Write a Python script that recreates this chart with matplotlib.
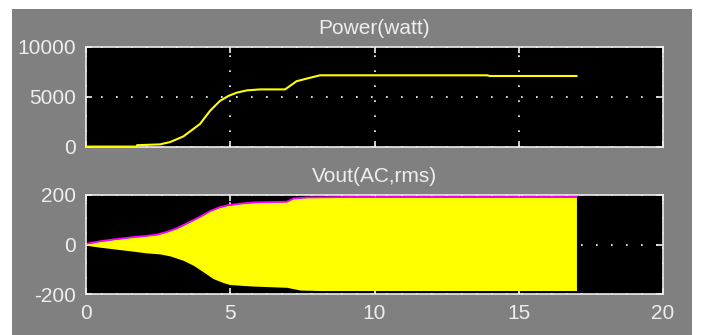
import matplotlib
matplotlib.use("Agg")
import matplotlib.pyplot as plt
from matplotlib.patches import Rectangle

plt.rcParams["axes.unicode_minus"] = False

# power curve (watt) vs time
t_power = [0, 1.76, 1.77, 2.56, 2.91, 3.37, 3.95, 4.30, 4.64, 4.93, 5.22, 5.57,
           6.03, 6.90, 7.30, 7.65, 8.11, 13.9, 14.0, 17.0]
power = [40, 40, 180, 260, 490, 1050, 2300, 3620, 4600, 5100, 5430, 5660,
         5760, 5760, 6580, 6840, 7170, 7170, 7100, 7100]

# Vout envelope (upper / lower) vs time
t_upper = [0, 0.49, 1.06, 1.64, 2.10, 2.45, 2.80, 3.14, 3.49, 3.95, 4.30, 4.64,
           4.93, 5.34, 5.80, 6.96, 7.19, 7.65, 9.15, 17.0]
v_upper = [3, 13, 22, 30, 35, 40, 51, 65, 85, 112, 135, 151,
           159, 165, 170, 173, 186, 190, 192, 192]
t_lower = [0, 0.49, 1.06, 1.64, 2.10, 2.56, 2.91, 3.37, 3.72, 4.07, 4.41, 4.76,
           4.99, 5.80, 6.96, 7.42, 8.11, 17.0]
v_lower = [-3, -11, -19, -27, -34, -38, -46, -64, -84, -111, -138, -154,
           -162, -168, -173, -184, -186, -186]

xticks = [0, 5, 10, 15, 20]
fg = "#eeeeee"
font = "Liberation Sans"

fig = plt.figure(figsize=(7.01, 3.35), dpi=100)
fig.patch.set_facecolor("white")
fig.patches.append(Rectangle((12 / 701, 0), 680 / 701, 1 - 9 / 335,
                             transform=fig.transFigure, facecolor="#808080",
                             edgecolor="none", zorder=-10))

ax1 = fig.add_axes([86 / 701, 1 - 147 / 335, 577 / 701, 100 / 335])
ax2 = fig.add_axes([86 / 701, 1 - 294 / 335, 577 / 701, 99 / 335])

for ax in (ax1, ax2):
    ax.set_facecolor("black")
    ax.set_xlim(0, 20)
    ax.set_xticks(xticks)
    for s in ax.spines.values():
        s.set_color(fg)
        s.set_linewidth(1.2)
    ax.tick_params(direction="in", colors=fg, length=4, width=1.2,
                   top=True, right=True, labelsize=15, pad=7)
    ax.grid(True, color="white", linestyle=(0, (1, 8)), linewidth=1.2)
    ax.set_axisbelow(True)

ax1.plot(t_power, power, color="#ffff00", linewidth=1.5, zorder=3)
ax1.set_ylim(0, 10000)
ax1.set_yticks([0, 5000, 10000])
ax1.set_xticklabels([])
ax1.set_title("Power(watt)", color=fg, fontsize=15, fontfamily=font, pad=9)

ax2.fill_between(t_upper, v_upper, 0, color="#ffff00", linewidth=0)
ax2.fill_between(t_lower, v_lower, 0, color="#ffff00", linewidth=0)
ax2.plot(t_upper, v_upper, color="#ff00ff", linewidth=1.3)
ax2.set_ylim(-200, 200)
ax2.set_yticks([-200, 0, 200])
ax2.set_title("Vout(AC,rms)", color=fg, fontsize=15, fontfamily=font, pad=9)

for ax in (ax1, ax2):
    for lab in ax.get_xticklabels() + ax.get_yticklabels():
        lab.set_fontfamily(font)

fig.savefig("out.png", dpi=100, facecolor=fig.get_facecolor())
